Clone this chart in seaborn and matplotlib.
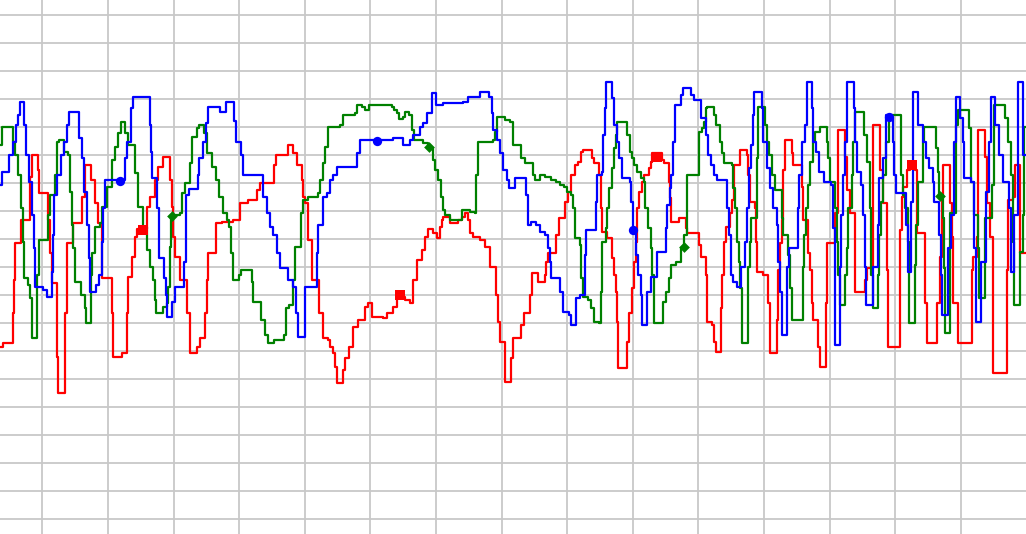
import numpy as np
import pandas as pd
import matplotlib.pyplot as plt
import seaborn as sns

# Step series: (sample, level) where the level changes
blue_pts = [
    (0, 20.5), (0.4, 23.8), (2.3, 28.0), (3.2, 31.3), (4.0, 35.5), (4.6, 38.0), (5.0, 41.3),
    (6.1, 35.5), (6.5, 28.0), (7.3, 21.3), (8.1, 13.0), (8.4, 4.7), (8.75, -4.9), (10.8, -5.75),
    (11.7, -7.4), (13.1, -1.2), (13.3, 8.0), (13.6, 18.0), (14.3, 23.0), (15.2, 28.0), (16.0, 31.3),
    (16.7, 35.5), (17.3, 38.8), (19.8, 32.2), (20.4, 27.2), (21.0, 18.8), (21.7, 10.5), (22.2, 2.2),
    (22.5, -6.2), (23.9, -4.5), (24.7, -2.0), (25.4, 6.3), (25.8, 14.7), (26.3, 21.8), (31.25, 27.2),
    (31.8, 31.3), (32.7, 39.7), (33.2, 42.6), (37.5, 35.5), (37.75, 28.8), (38.0, 22.2), (39.2, 14.7),
    (39.7, 8.8), (39.8, 2.2), (41.1, -2.8), (41.5, -7.0), (41.8, -12.4), (43.0, -8.7), (43.7, -4.9),
    (45.9, 1.3), (46.5, 18.0), (47.3, 19.5), (49.4, 23.0), (49.8, 27.2), (50.7, 31.3), (51.5, 35.9),
    (52.1, 40.0), (55.0, 38.8), (56.5, 41.3), (58.6, 36.5), (59.0, 31.3), (60.25, 28.0), (60.8, 23.0),
    (65.8, 17.6), (66.7, 13.4), (67.5, 10.1), (68.3, 8.0), (69.2, 3.4), (70.0, -0.3), (72.1, -3.25),
    (73.3, -4.9), (74.0, -11.6), (74.6, -17.4), (76.25, -4.9), (79.2, 3.4), (79.6, 10.5), (80.8, 17.6),
    (81.7, 18.4), (82.5, 21.75), (83.3, 23.0), (84.2, 25.1), (89.3, 28.4), (90.0, 31.75), (98.3, 32.2),
    (100.8, 30.5), (102.5, 31.75), (103.3, 33.0), (105.0, 35.1), (105.8, 35.9), (106.7, 38.4),
    (107.9, 43.4), (109.0, 40.5), (110.8, 40.9), (115.8, 41.3), (117.1, 42.6), (120.0, 43.8),
    (122.3, 42.6), (122.9, 38.4), (123.3, 34.25), (124.2, 31.75), (125.0, 28.4), (125.8, 24.25),
    (126.7, 21.75), (127.3, 19.7), (128.8, 22.2), (131.6, 18.0), (132.0, 10.5), (132.8, 11.3),
    (134.1, 10.5), (134.9, 8.8), (136.2, 8.0), (137.0, 4.7), (137.4, 1.3), (137.8, -2.8), (139.9, -6.2),
    (140.75, -11.2), (142.2, -12.0), (142.7, -14.5), (144.1, -7.8), (144.9, -7.0), (146.2, 3.0),
    (146.6, 9.25), (148.9, 16.3), (149.3, 23.0), (150.6, 23.8), (150.8, 33.0), (151.2, 39.7),
    (151.6, 46.3), (153.1, 42.2), (153.5, 35.5), (154.3, 31.3), (154.75, 27.2), (155.6, 22.2),
    (157.5, 21.3), (157.7, 16.3), (158.25, 9.7), (158.9, 3.0), (159.5, -2.0), (160.2, -7.0),
    (160.6, -14.5), (161.8, -6.2), (162.7, -2.4), (164.2, 3.8), (166.4, 9.7), (166.8, 15.5),
    (167.5, 19.7), (167.8, 23.0), (168.3, 31.3), (168.7, 40.5), (170.2, 43.0), (170.8, 44.7),
    (172.7, 43.0), (173.5, 41.75), (175.2, 37.2), (176.4, 33.0), (177.0, 28.0), (177.7, 25.5),
    (178.5, 23.0), (179.3, 21.75), (181.8, 14.7), (182.3, 8.0), (182.7, -2.0), (183.3, -3.7),
    (184.2, -5.0), (185.2, 0.0), (186.2, 6.3), (186.8, 14.7), (187.3, 24.7), (187.7, 30.5),
    (188.2, 38.0), (188.5, 43.8), (190.4, 39.7), (190.8, 31.3), (191.7, 24.7), (192.5, 19.7),
    (193.2, 14.7), (194.2, 10.5), (194.6, 1.3), (195.0, -6.2), (195.4, -17.0), (196.8, 0.0),
    (197.3, 4.7), (199.6, 14.7), (199.8, 23.0), (200.5, 31.3), (201.3, 35.5), (201.8, 46.3),
    (202.9, 39.7), (203.3, 31.3), (204.0, 28.8), (204.8, 23.8), (206.0, 21.3), (207.8, 20.5),
    (208.3, 9.7), (208.8, -19.5), (210.0, 0.0), (210.3, 13.0), (210.7, 23.0), (211.3, 31.3),
    (211.8, 46.3), (213.5, 39.7), (213.8, 31.3), (214.3, 23.8), (215.3, 20.5), (215.8, 13.0),
    (216.3, 0.0), (216.6, -9.5), (218.2, 0.0), (219.4, 10.5), (219.8, 22.2), (220.7, 27.2),
    (221.5, 38.0), (222.75, 37.2), (223.2, 31.3), (223.6, 23.0), (224.0, 18.4), (226.5, 10.5),
    (226.9, -1.2), (227.75, 16.3), (228.2, 43.8), (229.4, 35.5), (230.7, 31.3), (231.5, 27.2),
    (232.3, 24.7), (233.2, 21.3), (233.6, 16.3), (234.8, 8.0), (235.2, -2.0), (235.5, -12.0),
    (236.9, 4.7), (237.75, 13.0), (238.6, 31.3), (239.0, 42.6), (240.0, 37.2), (240.8, 31.3),
    (241.1, 22.2), (242.75, 21.3), (243.6, 4.7), (244.0, -13.7), (245.25, 1.3), (246.5, 18.8),
    (247.3, 31.3), (247.75, 42.6), (248.8, 35.5), (249.8, 28.0), (250.7, 21.3), (252.3, 14.7),
    (252.75, -1.2), (253.6, 13.0), (254.4, 46.3), (255.8, 28.0), (256.5, 28.0),
]

green_pts = [
    (0, 30.5), (0.4, 35.1), (3.2, 31.3), (3.75, 28.0), (4.6, 23.0), (5.25, 14.7), (5.7, 6.3),
    (6.0, -2.8), (7.1, -4.5), (7.5, -7.8), (7.9, -13.7), (8.1, -17.8), (9.3, -2.0), (9.7, 6.75),
    (11.9, 13.0), (12.5, 18.0), (13.75, 23.0), (14.3, 31.3), (14.8, 31.75), (16.0, 28.8),
    (17.1, 28.0), (17.5, 18.8), (17.9, 10.5), (18.3, 4.7), (18.75, -3.7), (20.2, -7.0),
    (21.25, -10.3), (21.5, -14.1), (22.75, -2.0), (22.9, 3.4), (23.75, 10.1), (25.0, 10.9),
    (25.4, 15.1), (26.7, 20.1), (27.9, 26.75), (28.75, 30.1), (29.6, 33.4), (30.2, 36.3),
    (31.25, 33.4), (32.1, 30.5), (33.75, 23.4), (34.6, 15.1), (35.7, 10.1), (36.7, 4.25),
    (37.5, 0.1), (38.3, -3.25), (38.75, -8.25), (39.0, -11.6), (40.8, -9.9), (41.7, -9.1),
    (42.1, -4.9), (42.5, 5.1), (42.75, 13.0), (45.0, 13.4), (45.4, 18.4), (46.25, 20.9),
    (47.5, 25.9), (47.9, 32.6), (49.2, 34.7), (49.8, 35.5), (51.0, 33.4), (51.7, 28.4),
    (52.9, 25.1), (54.0, 21.75), (54.8, 17.6), (55.7, 13.4), (56.7, 11.75), (57.3, 10.1),
    (57.7, 3.4), (58.2, -3.25), (59.8, -2.0), (60.25, -0.75), (63.0, -3.7), (63.3, -8.7),
    (65.25, -13.25), (66.3, -17.0), (66.9, -19.1), (68.6, -18.25), (71.1, -17.0), (71.5, -10.3),
    (72.2, -9.5), (73.3, -3.25), (73.75, 5.1), (75.2, 13.4), (75.8, 16.75), (77.1, 17.6),
    (79.6, 18.4), (80.0, 21.75), (80.7, 25.9), (81.25, 30.1), (82.1, 35.1), (85.0, 35.5),
    (85.8, 38.0), (88.75, 38.4), (89.2, 40.5), (90.4, 40.1), (91.25, 39.25), (92.3, 40.5),
    (97.9, 40.1), (98.5, 39.25), (99.2, 38.4), (99.8, 36.9), (100.7, 37.6), (101.25, 38.8),
    (102.3, 38.0), (102.9, 34.25), (103.5, 31.75), (105.8, 30.9), (107.1, 29.7), (108.2, 26.75),
    (108.75, 24.25), (109.6, 21.75), (110.2, 17.6), (110.7, 14.25), (111.2, 13.0), (112.4, 11.75),
    (115.5, 14.25), (117.4, 13.75), (118.7, 13.4), (119.1, 23.0), (119.5, 31.3), (123.25, 31.75),
    (123.7, 33.8), (124.3, 37.6), (126.2, 36.75), (127.4, 36.3), (128.25, 30.5), (130.3, 27.2),
    (131.2, 25.9), (133.25, 23.0), (133.7, 21.75), (134.9, 23.0), (136.2, 22.6), (137.8, 21.75),
    (139.0, 21.3), (139.9, 20.5), (141.0, 20.1), (141.8, 18.8), (142.8, 18.0), (143.25, 14.7),
    (143.7, 7.2), (144.9, 5.5), (145.3, -2.8), (145.75, -7.4), (147.0, -8.25), (147.7, -10.3),
    (148.5, -13.7), (149.75, -14.1), (150.2, -6.2), (150.6, 6.3), (151.4, 9.7), (151.8, 14.7),
    (152.25, 19.7), (153.1, 24.7), (153.5, 29.7), (153.9, 33.0), (154.3, 36.3), (156.7, 33.0),
    (157.5, 28.8), (158.1, 27.2), (158.5, 25.5), (159.3, 23.8), (160.2, 22.2), (161.0, 21.3),
    (161.3, 14.7), (162.0, 9.7), (162.7, 4.7), (163.1, -2.0), (163.5, -14.1), (165.8, -8.7),
    (166.6, -6.2), (167.25, -2.8), (167.8, 0.5), (168.9, 1.3), (170.2, 4.7), (171.0, 8.0),
    (171.8, 23.0), (174.75, 33.8), (175.6, 34.7), (176.0, 36.3), (176.4, 39.7), (176.8, 40.1),
    (178.5, 38.0), (178.9, 35.5), (180.0, 31.3), (180.6, 28.4), (181.0, 26.0), (182.9, 25.5),
    (183.3, 19.7), (183.75, 14.7), (184.2, 6.3), (184.8, 1.3), (185.0, -5.3), (185.4, -19.1),
    (187.1, 0.0), (187.5, 6.3), (187.7, 12.2), (189.2, 27.2), (189.6, 40.1), (191.25, 35.5),
    (191.7, 31.3), (192.3, 28.0), (192.9, 23.0), (193.75, 19.25), (195.4, 12.2), (195.8, 8.0),
    (197.1, 3.0), (197.5, -5.3), (197.9, -13.25), (200.7, 0.0), (201.0, 8.0), (201.5, 14.7),
    (202.1, 20.5), (202.5, 26.3), (203.3, 31.3), (203.75, 33.8), (205.0, 35.1), (206.7, 31.3),
    (207.1, 27.2), (207.5, 21.3), (208.75, 14.7), (209.2, 6.3), (209.6, -2.0), (210.0, -9.5),
    (211.25, -2.0), (211.7, 4.7), (212.1, 14.7), (212.9, 23.0), (213.3, 31.3), (213.75, 38.8),
    (216.0, 33.0), (216.7, 26.3), (217.4, 14.7), (217.75, -2.0), (218.25, -10.3), (219.4, -2.0),
    (219.8, 8.0), (220.25, 16.3), (220.7, 23.0), (221.5, 31.3), (222.2, 38.0), (225.25, 23.0),
    (225.7, 18.0), (226.3, 14.7), (226.9, 6.3), (227.2, -3.7), (227.3, -14.1), (228.8, 0.5),
    (229.0, 10.5), (229.4, 21.3), (230.7, 31.3), (231.1, 35.1), (234.0, 29.7), (234.4, 23.8),
    (234.8, 18.0), (235.7, 12.2), (236.1, -0.3), (236.3, -16.6), (237.5, 13.4), (239.0, 35.5),
    (239.4, 39.25), (242.3, 34.7), (242.75, 21.3), (243.6, 13.0), (244.4, 4.7), (244.8, -7.8),
    (246.3, 12.2), (248.0, 20.5), (248.6, 40.5), (251.25, 37.2), (252.1, 31.3), (252.75, 23.0),
    (253.2, 6.3), (253.4, -9.5), (255.0, 3.8), (255.7, 13.0), (256.1, 35.1), (256.5, 35.1),
]

red_pts = [
    (0, -19.9), (0.8, -19.1), (3.3, -11.6), (3.5, -3.25), (3.75, 5.9), (5.2, 11.75), (7.5, 22.6),
    (7.9, 28.0), (9.4, 24.25), (9.8, 18.4), (11.9, 11.75), (12.5, 3.4), (12.9, -4.1), (14.3, -22.4),
    (14.6, -31.6), (16.25, -11.6), (16.7, 5.9), (18.3, 10.9), (20.5, 17.6), (21.25, 25.5),
    (22.75, 21.75), (23.75, 15.9), (24.6, 10.9), (25.4, -2.8), (27.9, -11.6), (28.3, -22.4),
    (30.4, -21.6), (31.7, -11.6), (32.1, -2.4), (32.9, 2.6), (33.75, 7.6), (34.2, 9.6), (36.7, 15.1),
    (37.5, 17.6), (38.75, 21.75), (39.6, 25.1), (40.8, 27.6), (42.5, 21.75), (42.9, 15.1),
    (43.3, 7.6), (43.75, 2.6), (45.0, -3.25), (46.7, -11.6), (47.5, -21.6), (49.2, -19.9),
    (50.0, -17.8), (51.25, -11.6), (51.7, -3.25), (52.1, 3.4), (54.0, 10.9), (55.4, 11.3),
    (58.3, 11.75), (60.0, 15.9), (62.1, 16.75), (64.2, 19.25), (65.0, 20.9), (68.6, 25.5),
    (69.0, 28.0), (71.9, 30.5), (73.3, 28.4), (74.2, 25.5), (75.4, 21.75), (75.8, 17.6),
    (76.25, 16.0), (77.1, 6.75), (77.9, -3.25), (79.8, -11.6), (80.8, -17.8), (82.1, -18.25),
    (82.5, -19.9), (83.3, -21.6), (83.75, -25.0), (84.3, -29.1), (85.8, -25.75), (86.25, -22.8),
    (87.3, -19.9), (88.3, -14.9), (89.6, -13.25), (91.25, -9.9), (92.1, -9.1), (92.9, -12.4),
    (95.8, -12.75), (96.7, -11.6), (98.3, -9.9), (99.2, -7.4), (101.25, -8.25), (102.5, -9.1),
    (103.3, -3.25), (104.2, 1.75), (105.4, 4.25), (106.25, 7.6), (107.1, 9.6), (108.3, 8.4),
    (109.2, 7.2), (110.0, 10.1), (110.4, 11.75), (110.8, 12.6), (112.5, 10.9), (114.6, 11.75),
    (115.4, 12.6), (116.25, 13.4), (117.1, 11.75), (117.5, 8.4), (118.3, 7.6), (120.0, 6.75),
    (121.25, 5.1), (122.5, 0.1), (124.1, -7.0), (124.5, -13.7), (124.9, -18.7), (126.2, -28.7),
    (127.8, -22.8), (128.25, -17.8), (130.3, -14.5), (131.0, -11.6), (132.4, -7.0), (133.0, -1.6),
    (134.5, -3.7), (136.2, -2.0), (136.6, 1.3), (137.0, 3.4), (139.1, 8.0), (139.7, 12.2),
    (141.2, 16.3), (142.0, 18.8), (142.8, 23.0), (143.7, 25.5), (144.5, 26.3), (145.2, 28.8),
    (145.75, 29.25), (148.1, 27.2), (148.5, 25.9), (149.75, 23.0), (150.2, 14.7), (150.6, 8.8),
    (151.8, 7.2), (153.1, 2.2), (153.5, -2.0), (153.9, -6.2), (154.3, -13.7), (154.6, -25.3),
    (156.8, -18.7), (157.25, -11.6), (158.1, -5.3), (158.5, 1.3), (158.9, 6.3), (159.3, 14.7),
    (159.75, 18.8), (160.6, 21.3), (161.0, 23.0), (162.25, 24.7), (162.7, 26.3), (163.1, 28.4),
    (165.6, 26.75), (166.0, 25.9), (167.25, 21.3), (167.5, 17.2), (167.8, 11.3), (169.75, 12.2),
    (171.4, 9.7), (171.8, 8.4), (174.75, 5.5), (175.2, 2.6), (176.4, -2.0), (176.7, -13.7),
    (178.1, -14.5), (178.5, -18.7), (178.9, -21.2), (180.2, -10.3), (180.6, -2.0), (181.0, 6.3),
    (181.4, 10.0), (182.5, 13.4), (182.9, 16.75), (183.5, 25.5), (185.0, 29.25), (186.7, 28.0),
    (187.1, 23.0), (187.5, 16.3), (188.75, 14.7), (189.0, 6.3), (189.2, -1.2), (190.8, -2.0),
    (192.1, -9.1), (192.5, -21.6), (194.2, -13.25), (194.6, -0.75), (195.0, 5.9), (195.4, 11.75),
    (195.8, 24.25), (196.25, 31.75), (197.9, 28.4), (198.3, 25.5), (200.4, 20.1), (200.8, 11.75),
    (202.1, 3.4), (202.5, -0.75), (202.9, -9.1), (203.3, -13.25), (204.6, -19.9), (205.0, -24.9),
    (206.5, -9.1), (206.7, 5.9), (208.75, 13.4), (209.6, 34.25), (211.25, 27.6), (211.7, 19.25),
    (212.5, 13.4), (213.75, -6.2), (216.25, -3.25), (216.7, -0.3), (218.3, 35.5), (220.0, 24.25),
    (220.8, 15.9), (221.7, -0.75), (222.1, -19.9), (225.0, 9.25), (225.4, 17.6), (225.8, 20.1),
    (226.7, 24.25), (227.5, 25.9), (228.75, 24.25), (229.2, 8.4), (231.25, -9.1), (231.7, -19.1),
    (234.2, -9.1), (235.0, 2.6), (235.4, 17.6), (235.8, 25.5), (237.5, 15.9), (237.9, 7.6),
    (238.3, -9.1), (239.6, -19.1), (242.9, -0.75), (243.3, 2.6), (244.2, 7.6), (244.6, 34.25),
    (246.25, 27.6), (246.7, 15.9), (247.5, 7.6), (248.3, -26.6), (251.7, -0.75), (252.1, 16.75),
    (253.3, 17.6), (253.75, 25.5), (255.0, 3.4), (256.5, 3.4),
]

# marker points on each series
blue_marks = [(30.0, 21.5), (94.25, 31.5), (158.25, 9.25), (222.25, 37.5)]
green_marks = [(43.0, 12.75), (107.25, 30.0), (171.0, 5.0), (235.0, 17.75)]
red_marks = [(35.75, 9.25), (100.0, -7.0), (164.25, 27.5), (228.0, 25.5)]

series = [
    ("red", red_pts, red_marks, "s", "#ff0000"),
    ("green", green_pts, green_marks, "D", "#008000"),
    ("blue", blue_pts, blue_marks, "o", "#0000ff"),
]

sns.set_style("white")
fig = plt.figure(figsize=(10.26, 5.34), dpi=100)
ax = fig.add_axes([0, 0, 1, 1])

for name, pts, marks, mk, col in series:
    df = pd.DataFrame(pts, columns=["t", "v"])
    sns.lineplot(data=df, x="t", y="v", ax=ax, color=col, lw=1.6,
                 drawstyle="steps-post", estimator=None, sort=False, zorder=3)
    mdf = pd.DataFrame(marks, columns=["t", "v"])
    sns.scatterplot(data=mdf, x="t", y="v", ax=ax, color=col, marker=mk,
                    s=45 if mk != "D" else 30, edgecolor=col, linewidth=0, zorder=4)

ax.set_xlim(0, 256.5)
ax.set_ylim(-66.75, 66.75)
ax.set_xticks(np.arange(10.6, 256, 16.4))
ax.set_yticks(np.arange(-63, 64, 7))
ax.grid(True, color="#c8c8c8", lw=1.3)
ax.set_axisbelow(True)
ax.tick_params(length=0, labelbottom=False, labelleft=False)
ax.set_xlabel("")
ax.set_ylabel("")
for s in ax.spines.values():
    s.set_visible(False)

fig.savefig("out.png", dpi=100)
